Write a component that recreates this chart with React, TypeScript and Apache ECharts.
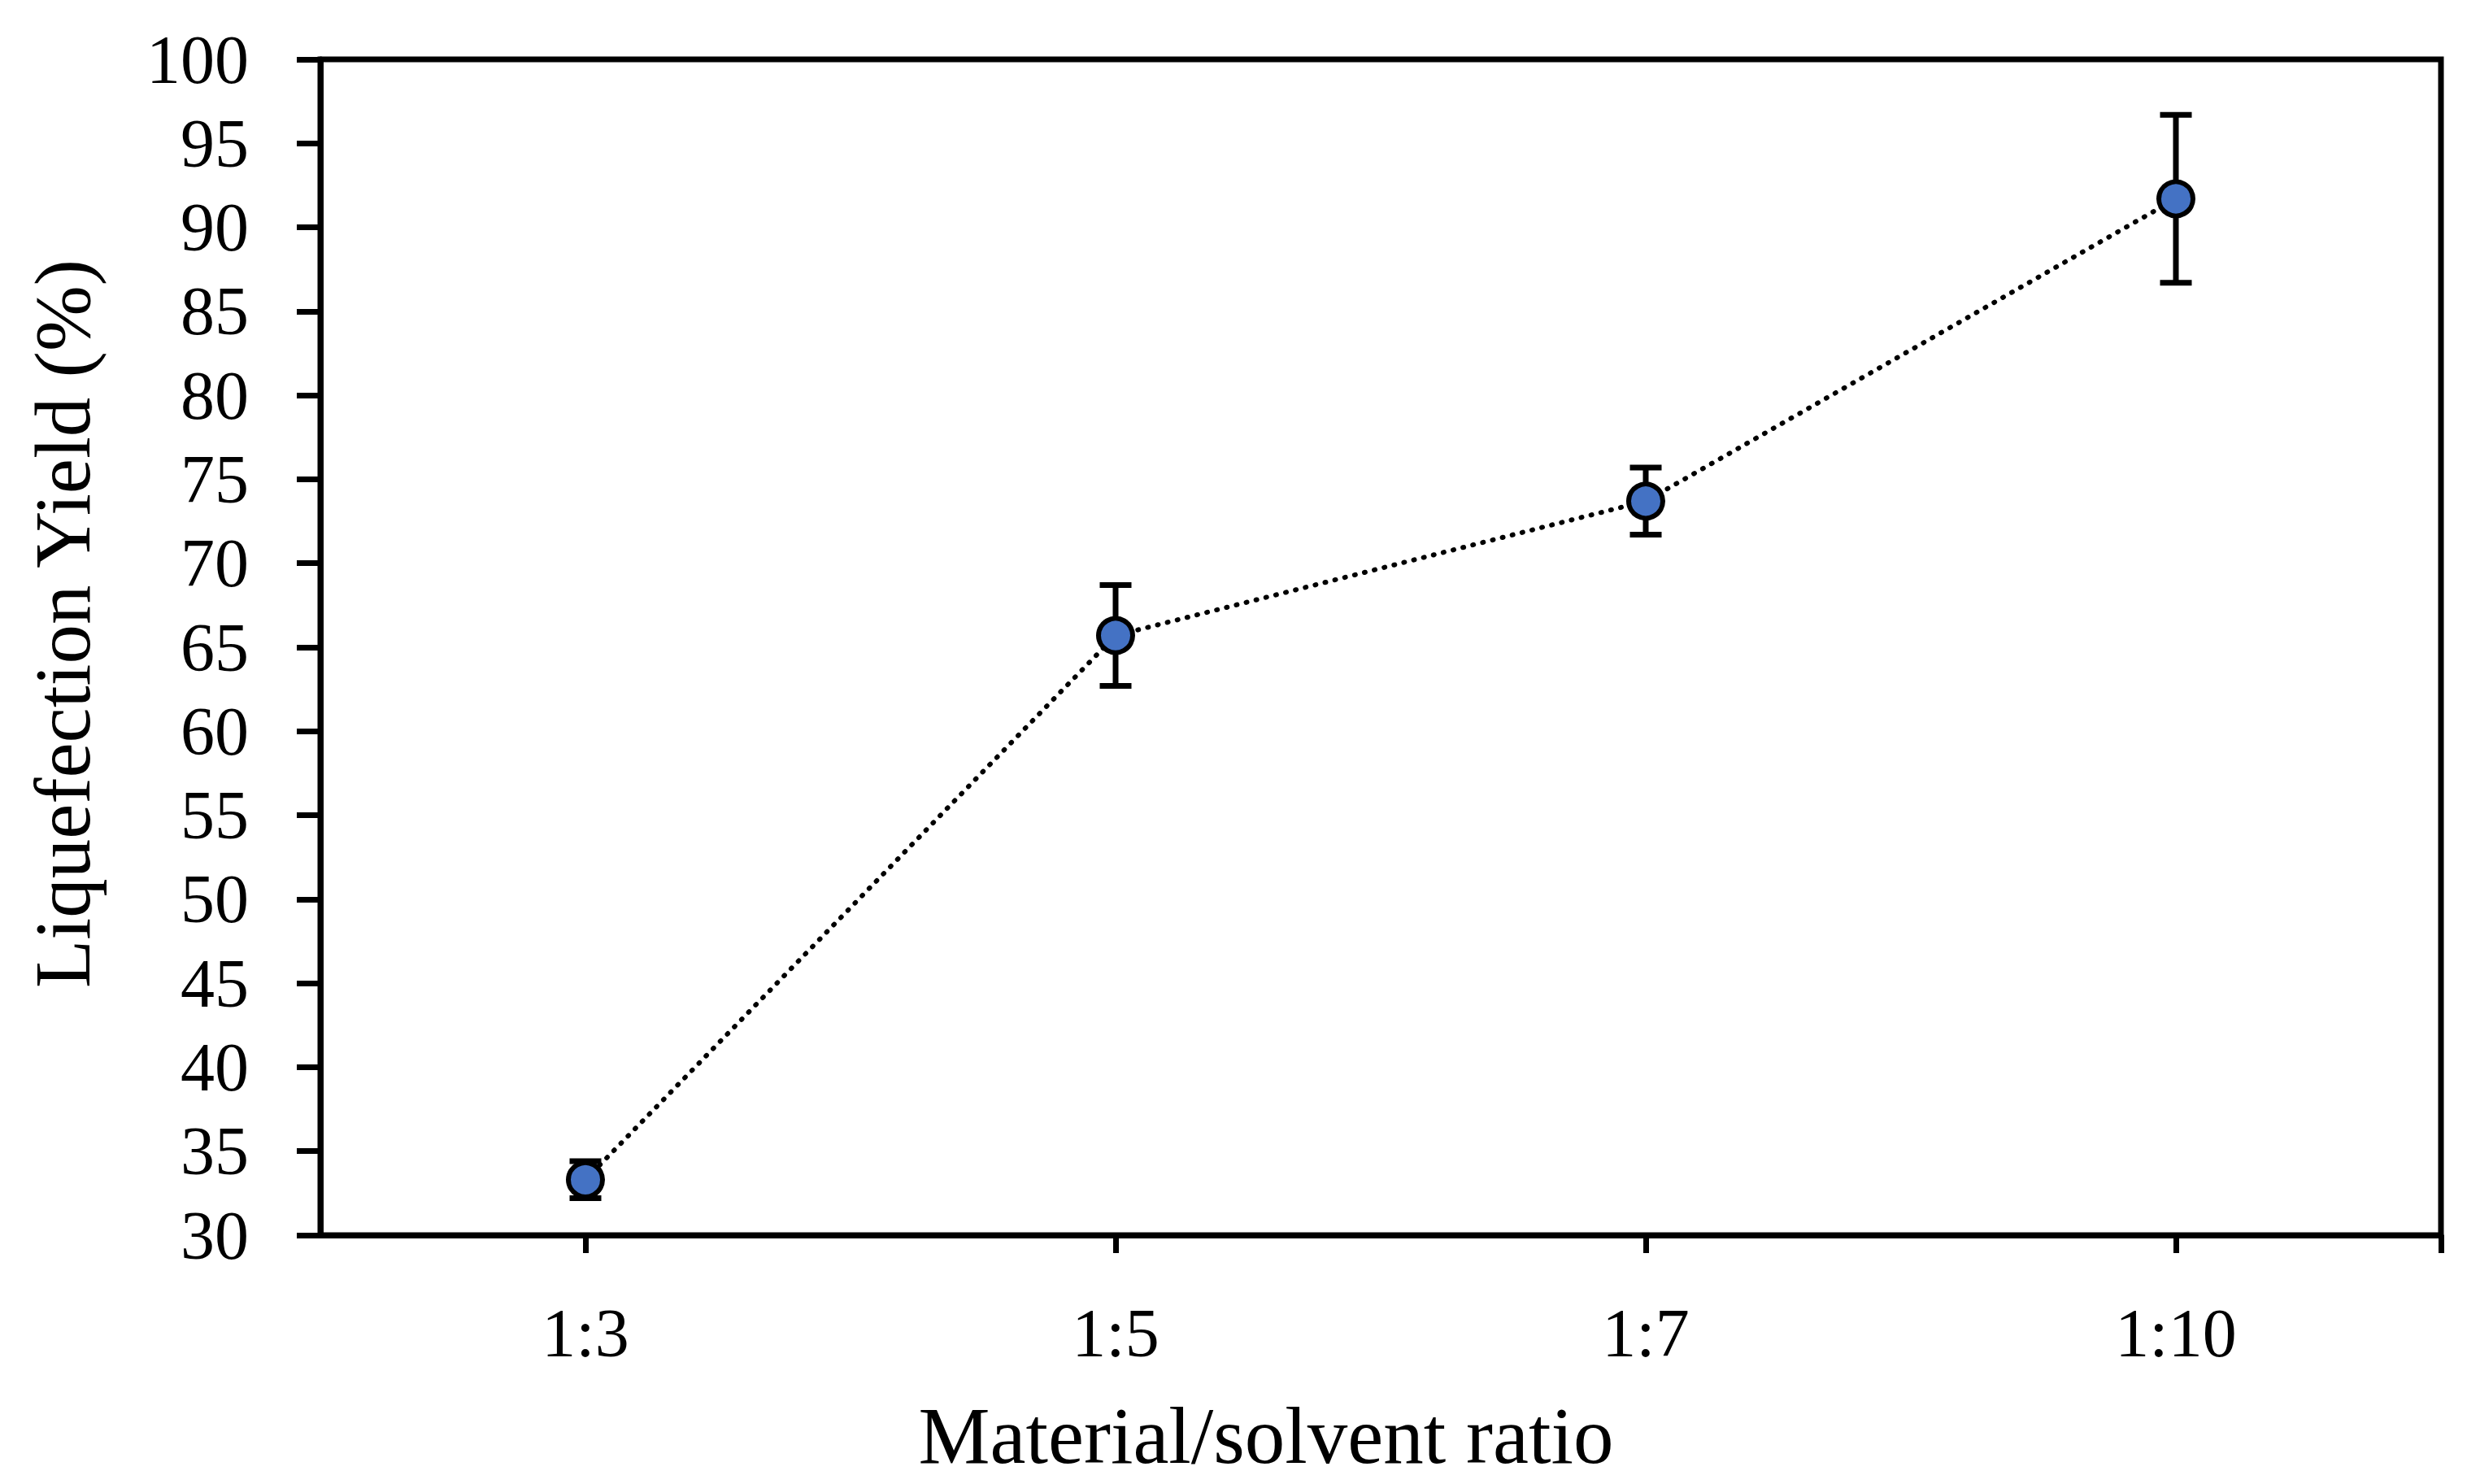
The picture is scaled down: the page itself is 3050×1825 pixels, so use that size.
import React, { useEffect, useRef } from 'react';
import * as echarts from 'echarts';

const categories = ['1:3', '1:5', '1:7', '1:10'];
const yieldMean = [33.3, 65.7, 73.7, 91.7];
const yieldErr = [1.1, 3.0, 2.0, 5.0];
const yMin = 30;
const yMax = 100;
const yStep = 5;
const xTitle = 'Material/solvent ratio';
const yTitle = 'Liquefection Yield (%)';

const FONT = "'Liberation Serif', 'Times New Roman', serif";

export default function App() {
  const ref = useRef<HTMLDivElement>(null);
  useEffect(() => {
    document.body.style.margin = '0';
    const chart = echarts.init(ref.current!, undefined, { renderer: 'svg' });
    const idx = categories.map((_, i) => i);
    const lineData = idx.map((i) => [i, yieldMean[i]]);
    const errData = idx.map((i) => [i, yieldMean[i] - yieldErr[i], yieldMean[i] + yieldErr[i]]);
    chart.setOption({
      animation: false,
      backgroundColor: '#fff',
      grid: {
        left: 394,
        right: 48,
        top: 73,
        bottom: 306,
        show: true,
        borderColor: '#000',
        borderWidth: 7,
        backgroundColor: 'transparent',
      },
      xAxis: {
        type: 'value',
        min: -0.5,
        max: categories.length - 0.5,
        splitLine: { show: false },
        axisLine: { show: true, onZero: false, lineStyle: { color: '#000', width: 7 } },
        axisTick: {
          show: true,
          length: 22,
          lineStyle: { color: '#000', width: 7 },
          customValues: [...idx, categories.length - 0.5],
        },
        axisLabel: {
          customValues: idx,
          formatter: (v: number) => categories[Math.round(v)] ?? '',
          fontFamily: FONT,
          fontSize: 84,
          color: '#000',
          margin: 78,
        },
      },
      yAxis: {
        type: 'value',
        min: yMin,
        max: yMax,
        interval: yStep,
        splitLine: { show: false },
        axisLine: { show: true, onZero: false, lineStyle: { color: '#000', width: 7 } },
        axisTick: { show: true, length: 29, lineStyle: { color: '#000', width: 7 } },
        axisLabel: {
          fontFamily: FONT,
          fontSize: 84,
          color: '#000',
          margin: 88,
        },
      },
      graphic: [
        {
          type: 'text',
          x: 1557,
          y: 1765,
          style: {
            text: xTitle,
            font: `99px ${FONT}`,
            fill: '#000',
            textAlign: 'center',
            textVerticalAlign: 'middle',
          },
        },
        {
          type: 'text',
          x: 77,
          y: 767,
          rotation: Math.PI / 2,
          style: {
            text: yTitle,
            font: `97px ${FONT}`,
            fill: '#000',
            textAlign: 'center',
            textVerticalAlign: 'middle',
          },
        },
      ],
      series: [
        {
          type: 'custom',
          z: 2,
          encode: { x: 0, y: [1, 2] },
          data: errData,
          renderItem: (params: any, api: any) => {
            const x = api.value(0);
            const pLo = api.coord([x, api.value(1)]);
            const pHi = api.coord([x, api.value(2)]);
            const hw = 19.5;
            const style = { stroke: '#000', lineWidth: 7, fill: 'none' };
            return {
              type: 'group',
              children: [
                { type: 'line', shape: { x1: pLo[0], y1: pLo[1], x2: pHi[0], y2: pHi[1] }, style },
                { type: 'line', shape: { x1: pLo[0] - hw, y1: pLo[1], x2: pLo[0] + hw, y2: pLo[1] }, style },
                { type: 'line', shape: { x1: pHi[0] - hw, y1: pHi[1], x2: pHi[0] + hw, y2: pHi[1] }, style },
              ],
            };
          },
        },
        {
          type: 'line',
          z: 3,
          data: lineData,
          symbol: 'circle',
          symbolSize: 42,
          showAllSymbol: true,
          itemStyle: { color: '#4472C4', borderColor: '#000', borderWidth: 6 },
          lineStyle: { color: '#000', width: 6, type: [1, 11.5], cap: 'round' },
        },
      ],
    });
    return () => chart.dispose();
  }, []);
  return <div ref={ref} style={{ width: 3050, height: 1825 }} />;
}
